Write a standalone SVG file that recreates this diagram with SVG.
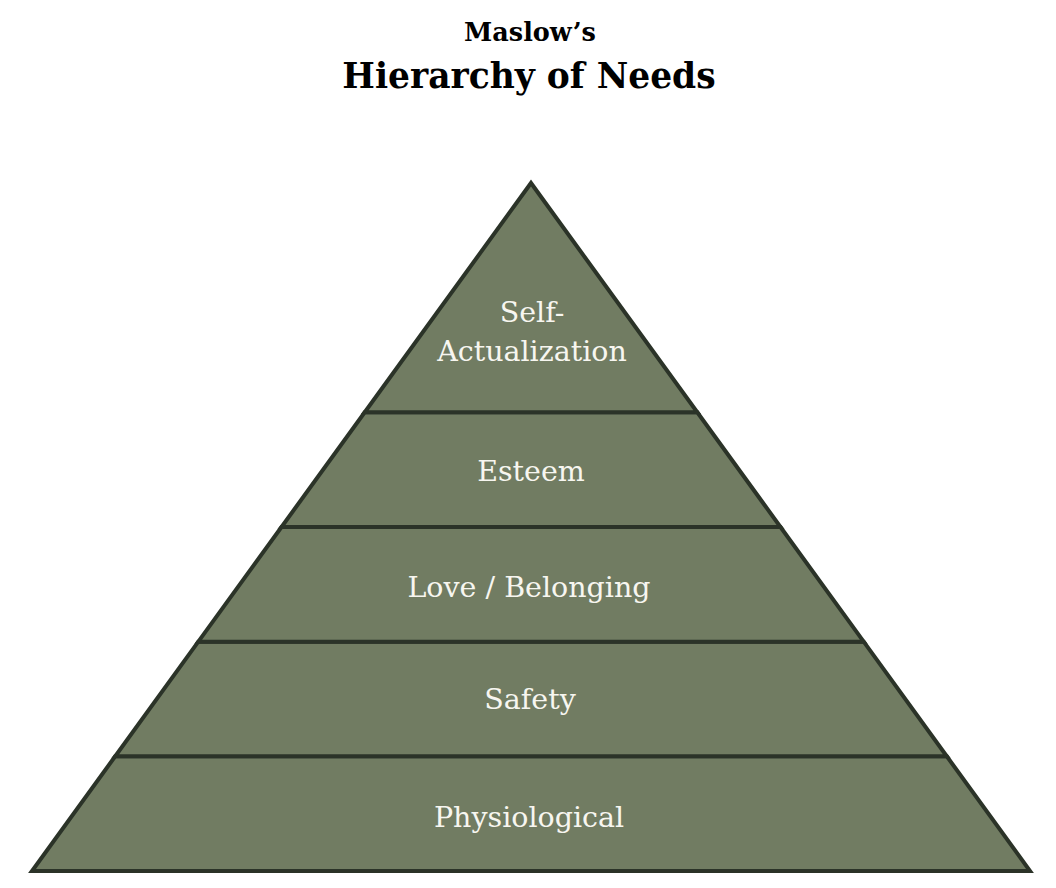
<svg xmlns="http://www.w3.org/2000/svg" width="1056" height="888" viewBox="0 0 1056 888">
<style>
.tier{fill:#717c62;stroke:#2b3328;stroke-width:4;stroke-linejoin:miter}
.lbl{font-family:"DejaVu Serif","Liberation Serif",serif;font-size:28.5px;fill:#f7f6f0;text-anchor:middle}
.t1{font-family:"DejaVu Serif","Liberation Serif",serif;font-weight:bold;font-size:25.5px;fill:#000;text-anchor:middle}
.t2{font-family:"DejaVu Serif","Liberation Serif",serif;font-weight:bold;font-size:34.5px;fill:#000;text-anchor:middle}
</style>
<rect width="1056" height="888" fill="#ffffff"/>
<g id="title">
<text class="t1" x="530" y="41">Maslow’s</text>
<text class="t2" x="529" y="88">Hierarchy of Needs</text>
</g>
<g id="physiological">
<polygon class="tier" points="115.2,756.3 946.8,756.3 1030,871 32,871"/>
<text class="lbl" x="529" y="827">Physiological</text>
</g>
<g id="safety">
<polygon class="tier" points="198.3,641.7 863.7,641.7 946.8,756.3 115.2,756.3"/>
<text class="lbl" x="530" y="709">Safety</text>
</g>
<g id="love-belonging">
<polygon class="tier" points="281.5,527 780.5,527 863.7,641.7 198.3,641.7"/>
<text class="lbl" x="529" y="597">Love / Belonging</text>
</g>
<g id="esteem">
<polygon class="tier" points="364.7,412.3 697.3,412.3 780.5,527 281.5,527"/>
<text class="lbl" x="531" y="481">Esteem</text>
</g>
<g id="self-actualization">
<polygon class="tier" points="531,183 697.3,412.3 364.7,412.3"/>
<text class="lbl" x="532" y="322">Self-</text>
<text class="lbl" x="532" y="361">Actualization</text>
</g>
<g id="connectors"></g>
</svg>
